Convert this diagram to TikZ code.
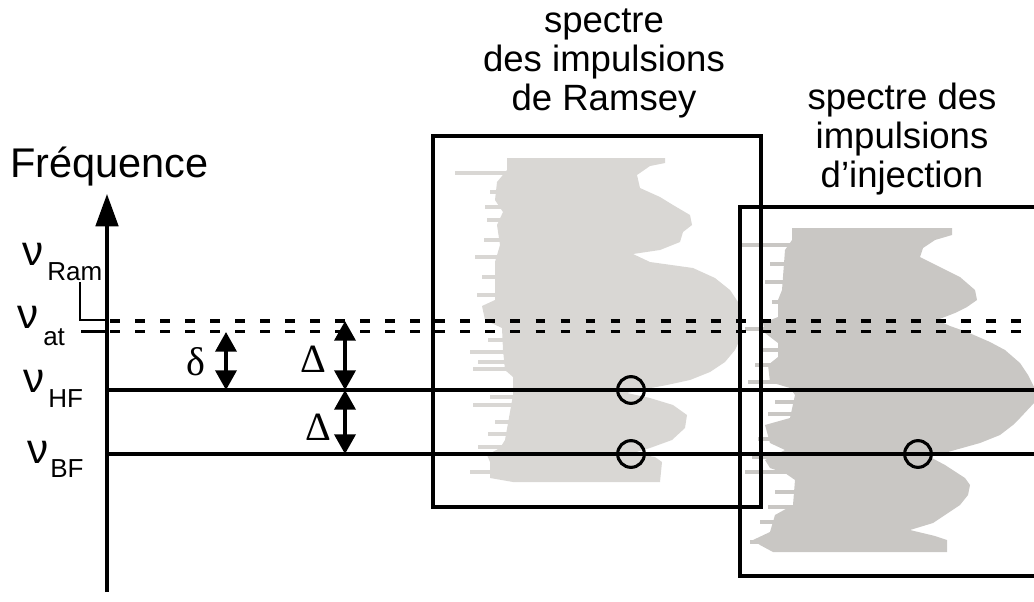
\documentclass[tikz,border=0pt]{standalone}
\usepackage{fontspec}
\setmainfont{Liberation Sans}
\newfontfamily\grecserif{Liberation Serif}
\usepackage{xcolor}
\usetikzlibrary{arrows.meta}

\definecolor{grisRamsey}{RGB}{217,215,212}
\definecolor{grisInjection}{RGB}{201,199,196}

\begin{document}
\begin{tikzpicture}[
    x=0.025cm, y=-0.025cm,
    trait/.style={line width=2.4pt},
    pointille/.style={line width=2.6pt, dash pattern=on 7pt off 10.8pt},
    boite/.style={draw, line width=2.4pt, inner sep=0pt},
    fleche/.style={line width=2.4pt,
                   {Triangle[length=14pt, width=15pt]}-{Triangle[length=14pt, width=15pt]}},
    axe/.style={line width=2.4pt, -{Triangle[length=23pt, width=16pt]}},
    cercle/.style={draw, circle, line width=2.2pt, minimum size=19pt, inner sep=0pt},
    titre/.style={align=center, font=\fontsize{26}{27.5}\selectfont},
    nu/.style={anchor=base west, inner sep=0pt, font=\fontsize{30}{30}\selectfont},
    indice/.style={anchor=base west, inner sep=0pt, font=\fontsize{18.5}{18.5}\selectfont},
    ecart/.style={inner sep=0pt, font=\grecserif\fontsize{28.5}{28.5}\selectfont}
  ]
    \useasboundingbox (0,0) rectangle (1034,601);
    \clip (0,0) rectangle (1034,601);

    % spectre des impulsions de Ramsey
    \fill[grisRamsey] (507,158) -- (665,158) -- (665,163) -- (650,166) -- (637,175) -- (640,188)
      -- (660,197) -- (673,205) -- (690,215) -- (692,225) -- (683,232) -- (680,242) -- (660,250)
      -- (633,254) -- (650,262) -- (693,268) -- (715,278) -- (730,290) -- (740,305) -- (742,320)
      -- (742,335) -- (735,350) -- (725,362) -- (710,372) -- (690,380) -- (667,385) -- (640,390)
      -- (627,393) -- (650,398) -- (673,405) -- (687,415) -- (685,428) -- (672,440) -- (650,448)
      -- (633,453) -- (655,457) -- (662,462) -- (660,482) -- (513,482) -- (490,478) -- (490,462)
      -- (487,455) -- (500,448) -- (505,440) -- (510,412) -- (513,395) -- (513,377) -- (505,370)
      -- (503,350) -- (502,328) -- (485,320) -- (482,306) -- (495,300) -- (495,262) -- (500,245)
      -- (497,225) -- (503,212) -- (495,200) -- (497,182) -- (507,170) -- cycle;
    \foreach \y/\x in {171/455, 190/490, 205/485, 218/487, 238/484, 255/475, 275/482, 293/477,
                       338/488, 350/470, 360/478, 367/473, 395/490, 403/473, 420/495, 432/488,
                       445/478, 470/470}
      \fill[grisRamsey] (\x,\y) rectangle (515,\y+4);

    % spectre des impulsions d'injection
    \fill[grisInjection] (792,228) -- (952,228) -- (952,235) -- (935,240) -- (923,248) -- (920,257)
      -- (940,267) -- (960,277) -- (975,290) -- (977,300) -- (967,307) -- (955,313) -- (937,320)
      -- (950,326) -- (967,332) -- (990,342) -- (1005,350) -- (1020,363) -- (1028,375) -- (1034,387)
      -- (1034,403) -- (1020,418) -- (1013,425) -- (1000,435) -- (980,443) -- (955,450) -- (930,457)
      -- (945,465) -- (965,478) -- (970,485) -- (968,495) -- (960,505) -- (945,515) -- (933,523)
      -- (910,530) -- (935,536) -- (947,540) -- (947,552) -- (773,552) -- (760,545) -- (753,540)
      -- (770,532) -- (775,515) -- (793,505) -- (795,480) -- (785,473) -- (770,468) -- (765,460)
      -- (785,450) -- (770,443) -- (765,425) -- (790,418) -- (795,395) -- (790,388) -- (770,382)
      -- (768,365) -- (778,357) -- (778,343) -- (765,333) -- (763,323) -- (778,317) -- (778,300)
      -- (782,290) -- (785,250) -- (792,240) -- cycle;
    \foreach \y/\x in {243/740, 262/770, 280/765, 300/772, 327/745, 348/760, 363/755, 380/748,
                       400/775, 412/768, 437/758, 455/752, 470/745, 490/775, 505/768, 520/760, 540/750}
      \fill[grisInjection] (\x,\y) rectangle (795,\y+4);

    % cadres
    \node[boite, minimum width=233.3pt, minimum height=264pt] (boiteRamsey) at (597,321.5) {};
    \node[boite, minimum width=220.5pt, minimum height=262.5pt] (boiteInjection) at (895,391.5) {};
    \node[titre, anchor=base] (titreRamsey) at (604,110) {spectre\\des impulsions\\de Ramsey};
    \node[titre, anchor=base] (titreInjection) at (902,187) {spectre des\\impulsions\\d’injection};

    % niveaux de fréquence
    \foreach \nom/\y in {Ram/321, at/331.5} {
      \coordinate (\nom-g) at (110,\y);
      \coordinate (\nom-d) at (1034,\y);
      \draw[pointille] (\nom-g) -- (\nom-d);
    }
    \foreach \nom/\y in {HF/390, BF/454} {
      \coordinate (\nom-g) at (108,\y);
      \coordinate (\nom-d) at (1034,\y);
      \draw[trait] (\nom-g) -- (\nom-d);
    }
    \coordinate (crochetRam) at (80,282);
    \coordinate (axeRam) at (107,320);
    \coordinate (crochetAt) at (81,331.5);
    \coordinate (axeAt) at (107,331.5);
    \draw[line width=1.7pt] (crochetRam) |- (axeRam);
    \draw[line width=1.7pt] (crochetAt) -- (axeAt);

    \node[cercle] (cercleHF) at (631,390) {};
    \node[cercle] (cercleBF) at (631,454) {};
    \node[cercle] (cercleInj) at (918,454) {};

    % axe
    \coordinate (axeBas) at (107,592);
    \coordinate (axeHaut) at (107,194);
    \draw[axe] (axeBas) -- (axeHaut);
    \node[anchor=base west, inner sep=0pt, font=\fontsize{29.5}{29.5}\selectfont] (frequence) at (10,177) {Fréquence};

    \node[nu] (nuRam) at (22,265) {ν};
    \node[indice] (indRam) at (47,280) {Ram};
    \node[nu] (nuAt) at (17,328) {ν};
    \node[indice] (indAt) at (43,345) {at};
    \node[nu] (nuHF) at (23,392) {ν};
    \node[indice] (indHF) at (48,407) {HF};
    \node[nu] (nuBF) at (27,463) {ν};
    \node[indice] (indBF) at (50,477) {BF};

    % écarts
    \coordinate (delta-h) at (226,332);
    \coordinate (delta-b) at (226,390);
    \coordinate (Delta-h) at (345,321);
    \coordinate (Delta-m) at (345,390);
    \coordinate (Delta-b) at (345,454);
    \draw[fleche] (delta-h) -- (delta-b);
    \draw[fleche] (Delta-h) -- (Delta-m);
    \draw[fleche] (Delta-m) -- (Delta-b);
    \node[ecart] (lblDelta) at (196,362) {δ};
    \node[ecart] (lblDeltaA) at (313,359) {Δ};
    \node[ecart] (lblDeltaB) at (318,427) {Δ};
  \end{tikzpicture}
\end{document}
